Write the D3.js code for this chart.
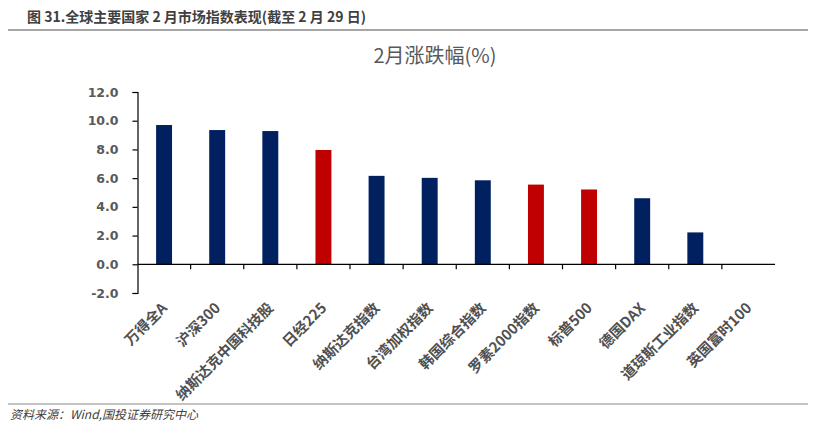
<!DOCTYPE html>
<html>
<head>
<meta charset="utf-8">
<script src="https://cdn.jsdelivr.net/npm/d3@7"></script>
<style>
  body { margin: 0; background: #fff; }
  svg { display: block; }
</style>
</head>
<body>
<div id="chart"></div>
<script>
// data
let categories = ["万得全A", "沪深300", "纳斯达克中国科技股", "日经225", "纳斯达克指数", "台湾加权指数",
    "韩国综合指数", "罗素2000指数", "标普500", "德国DAX", "道琼斯工业指数", "英国富时100"];
let values = [9.70, 9.35, 9.28, 7.96, 6.16, 6.02, 5.85, 5.55, 5.21, 4.60, 2.22, 0.0];
let highlight = ["日经225", "罗素2000指数", "标普500"];
let yTicks = [-2, 0, 2, 4, 6, 8, 10, 12];

let W = 825, H = 437;
let svg = d3.select("#chart").append("svg")
    .attr("width", W)
    .attr("height", H);

// header
svg.append("text")
    .attr("x", 27).attr("y", 22)
    .attr("font-family", "Noto Sans CJK SC")
    .attr("font-size", 14)
    .attr("font-weight", "bold")
    .attr("fill", "#404040")
    .text("图 31.全球主要国家 2 月市场指数表现(截至 2 月 29 日)");
svg.append("line")
    .attr("x1", 8).attr("x2", 808).attr("y1", 30).attr("y2", 30)
    .attr("stroke", "#888").attr("stroke-width", 1.5);

// chart title
svg.append("text")
    .attr("x", 435).attr("y", 63)
    .attr("text-anchor", "middle")
    .attr("font-family", "Noto Sans CJK SC")
    .attr("font-size", 20)
    .attr("fill", "#595959")
    .text("2月涨跌幅(%)");

let x = d3.scaleBand().domain(categories).range([137.5, 775]).paddingInner(0.7).paddingOuter(0.35);
let y = d3.scaleLinear().domain([-2, 12]).range([293, 92]);

// bars
svg.selectAll("rect.bar").data(categories).enter().append("rect")
    .attr("class", "bar")
    .attr("x", d => x(d))
    .attr("width", x.bandwidth())
    .attr("y", (d, i) => y(Math.max(0, values[i])))
    .attr("height", (d, i) => Math.abs(y(values[i]) - y(0)))
    .attr("fill", d => highlight.includes(d) ? "#C00000" : "#002060");

// y axis
let yAxis = svg.append("g")
    .attr("transform", "translate(137.5,0)")
    .call(d3.axisLeft(y).tickValues(yTicks).tickSize(5).tickFormat(d => d.toFixed(1)));
yAxis.select(".domain").attr("stroke", "#000").attr("stroke-width", 1.2);
yAxis.selectAll(".tick line").attr("stroke", "#000").attr("stroke-width", 1.2);
yAxis.selectAll(".tick text")
    .attr("x", -19)
    .attr("font-family", "Verdana, DejaVu Sans")
    .attr("font-size", 12.5)
    .attr("font-weight", "bold")
    .attr("fill", "#595959");

// x axis at zero
let step = x.step();
let xAxis = svg.append("g").attr("transform", "translate(0," + y(0) + ")");
xAxis.append("line")
    .attr("x1", 137.5).attr("x2", 775)
    .attr("stroke", "#000").attr("stroke-width", 1.2);
xAxis.selectAll("line.tk").data(d3.range(1, categories.length)).enter().append("line")
    .attr("class", "tk")
    .attr("x1", i => 137.5 + i * step).attr("x2", i => 137.5 + i * step)
    .attr("y1", 0).attr("y2", 5)
    .attr("stroke", "#000").attr("stroke-width", 1.2);

// category labels
svg.selectAll("text.cat").data(categories).enter().append("text")
    .attr("class", "cat")
    .attr("transform", d => "translate(" + (x(d) + x.bandwidth() / 2 + 4) + ",309) rotate(-45)")
    .attr("text-anchor", "end")
    .attr("font-family", "Noto Sans CJK SC")
    .attr("font-size", 14.5)
    .attr("font-weight", "bold")
    .attr("fill", "#505050")
    .text(d => d);

// footer
svg.append("line")
    .attr("x1", 8).attr("x2", 808).attr("y1", 404).attr("y2", 404)
    .attr("stroke", "#888").attr("stroke-width", 1.2);
svg.append("text")
    .attr("x", 10).attr("y", 419)
    .attr("font-family", "Noto Sans CJK SC")
    .attr("font-size", 12)
    .attr("font-style", "italic")
    .attr("fill", "#404040")
    .text("资料来源：Wind,国投证券研究中心");
</script>
</body>
</html>
